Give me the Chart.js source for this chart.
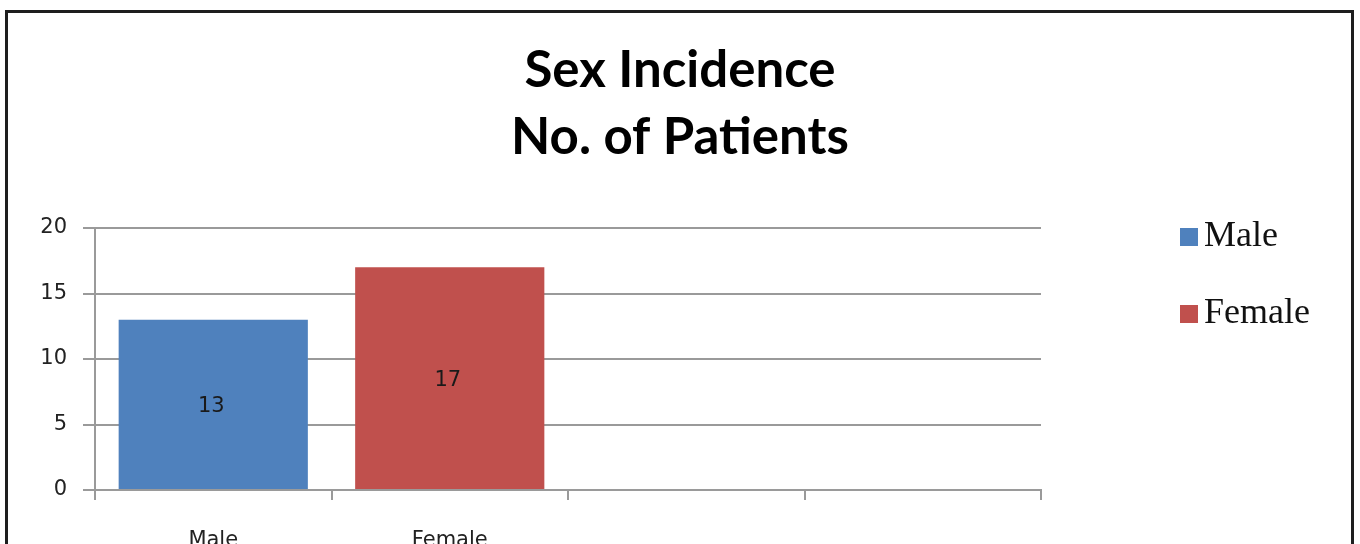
<!DOCTYPE html>
<html>
<head>
<meta charset="utf-8">
<script src="https://cdn.jsdelivr.net/npm/chart.js@4/dist/chart.umd.min.js"></script>
<style>
  html, body { margin: 0; padding: 0; background: #fff; }
  #wrap { position: relative; width: 1360px; height: 544px; overflow: hidden; }
  #frame {
    position: absolute; left: 5px; top: 10px; width: 1349px; height: 600px;
    box-sizing: border-box; border: 3px solid #1e1e1e;
  }
  #chart { position: absolute; left: 0; top: 0; }
</style>
</head>
<body>
<div id="wrap">
  <div id="frame"></div>
  <canvas id="chart" width="1360" height="544"></canvas>
</div>
<script>
const titleLines = ["Sex Incidence", "No. of Patients"];
const categories = ["Male", "Female", "", ""];
const seriesNames = ["Male", "Female"];
const maleValues = [13, null, null, null];
const femaleValues = [null, 17, null, null];
const yTicks = { min: 0, max: 20, step: 5 };
const colors = ["#4F81BD", "#C0504D"];

const gridColor = "#9a9a9a";

// title centred on the whole picture, not only on the plot
const pageTitle = {
  id: "pageTitle",
  afterDraw(chart) {
    const ctx = chart.ctx;
    ctx.save();
    ctx.font = "bold 51px Lato";
    ctx.fillStyle = "#000";
    ctx.textAlign = "center";
    ctx.textBaseline = "middle";
    titleLines.forEach((line, i) => {
      ctx.fillText(line, chart.width / 2, 71 + i * 67);
    });
    ctx.restore();
  }
};

// value written in the middle of each bar
const barLabels = {
  id: "barLabels",
  afterDatasetsDraw(chart) {
    const ctx = chart.ctx;
    ctx.save();
    ctx.font = "21px 'DejaVu Sans'";
    ctx.fillStyle = "#1a1a1a";
    ctx.textAlign = "center";
    ctx.textBaseline = "middle";
    chart.data.datasets.forEach((ds, i) => {
      chart.getDatasetMeta(i).data.forEach((bar, j) => {
        if (ds.data[j] == null) return;
        ctx.fillText(String(ds.data[j]), bar.x - 2, (bar.y + bar.base) / 2 + 2);
      });
    });
    ctx.restore();
  }
};

// Excel-like legend to the right of the plot
const sideLegend = {
  id: "sideLegend",
  afterDraw(chart) {
    const ctx = chart.ctx;
    const area = chart.chartArea;
    ctx.save();
    ctx.font = "36px 'Liberation Serif'";
    ctx.textBaseline = "alphabetic";
    chart.data.datasets.forEach((ds, i) => {
      const x = area.right + 139;
      const y = area.top + i * 77;
      ctx.fillStyle = ds.backgroundColor;
      ctx.fillRect(x, y, 18, 18);
      ctx.fillStyle = "#111";
      ctx.fillText(ds.label, x + 24, y + 18);
    });
    ctx.restore();
  }
};

new Chart(document.getElementById("chart"), {
  type: "bar",
  data: {
    labels: categories,
    datasets: [
      { label: seriesNames[0], data: maleValues, backgroundColor: colors[0] },
      { label: seriesNames[1], data: femaleValues, backgroundColor: colors[1] }
    ]
  },
  options: {
    responsive: false,
    animation: false,
    devicePixelRatio: 1,
    categoryPercentage: 0.8,
    barPercentage: 1,
    layout: { padding: { left: 0, right: 319, top: 228, bottom: 0 } },
    plugins: {
      legend: { display: false },
      tooltip: { enabled: false },
      title: { display: false }
    },
    scales: {
      x: {
        stacked: true,
        offset: true,
        grid: {
          offset: true,
          drawOnChartArea: false,
          drawTicks: true,
          tickLength: 10,
          lineWidth: 2,
          color: gridColor
        },
        border: { color: gridColor, width: 2 },
        ticks: {
          color: "#222",
          font: { family: "DejaVu Sans", size: 21 },
          padding: 28,
          maxRotation: 0
        },
        afterFit(scale) { scale.height = 54; }
      },
      y: {
        stacked: true,
        min: yTicks.min,
        max: yTicks.max,
        grid: { color: gridColor, lineWidth: 2, tickLength: 12 },
        border: { color: gridColor, width: 2 },
        ticks: {
          stepSize: yTicks.step,
          color: "#222",
          font: { family: "DejaVu Sans", size: 21 },
          padding: 16
        },
        afterFit(scale) { scale.width = 95; }
      }
    }
  },
  plugins: [pageTitle, barLabels, sideLegend]
});
</script>
</body>
</html>
